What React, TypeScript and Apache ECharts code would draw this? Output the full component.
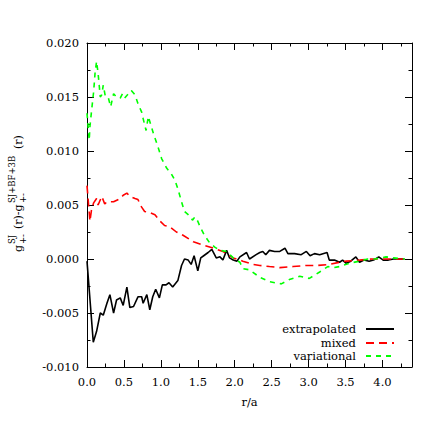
import React, { useEffect, useRef } from "react";
import * as echarts from "echarts";

const seriesNames = ["extrapolated", "mixed", "variational"];

const extrapolated: number[][] = [
  [0.0, -0.0002], [0.085, -0.0077], [0.13, -0.0067], [0.18, -0.005], [0.22, -0.0052],
  [0.27, -0.0041], [0.31, -0.0033], [0.36, -0.005], [0.4, -0.0038], [0.45, -0.0036],
  [0.49, -0.0043], [0.54, -0.0026], [0.58, -0.0045], [0.63, -0.0044], [0.69, -0.0035],
  [0.74, -0.0035], [0.76, -0.0041], [0.81, -0.0033], [0.85, -0.0047], [0.89, -0.0035],
  [0.93, -0.0028], [0.98, -0.0036], [1.02, -0.0024], [1.07, -0.0024], [1.11, -0.0022],
  [1.16, -0.0026], [1.23, -0.002], [1.28, -0.0006], [1.32, 0.0], [1.37, -0.0001],
  [1.41, -0.0005], [1.45, 0.0003], [1.5, -0.0011], [1.54, 0.0001], [1.58, 0.0003],
  [1.64, 0.0006], [1.69, 0.0009], [1.75, 0.0001], [1.8, 0.0002], [1.84, -0.0001],
  [1.89, 0.0008], [1.93, 0.0001], [1.98, -0.0001], [2.03, -0.0002], [2.07, 0.0002],
  [2.16, 0.0006], [2.2, 0.0], [2.29, 0.0004], [2.34, 0.0006], [2.38, 0.0007],
  [2.42, 0.0004], [2.47, 0.0008], [2.54, 0.0007], [2.61, 0.0007], [2.68, 0.001],
  [2.72, 0.0005], [2.81, 0.0005], [2.9, 0.0004], [2.97, 0.0007], [3.02, 0.0003],
  [3.08, 0.0005], [3.15, 0.0004], [3.25, 0.0006], [3.28, -0.0001], [3.35, -0.0001],
  [3.42, -0.0003], [3.46, -0.0001], [3.51, -0.0004], [3.57, -0.0002], [3.64, 0.0002],
  [3.69, -0.0003], [3.75, -0.0001], [3.82, -0.0002], [3.88, -0.0001], [3.95, 0.0002],
  [4.01, -0.0001], [4.08, -0.0001], [4.15, 0.0], [4.22, 0.0], [4.3, 0.0],
];

const mixed: number[][] = [
  [0.0, 0.0068], [0.04, 0.0035], [0.06, 0.0045], [0.09, 0.0052], [0.13, 0.0056],
  [0.15, 0.005], [0.2, 0.0058], [0.24, 0.0051], [0.27, 0.0053], [0.36, 0.0053],
  [0.45, 0.0056], [0.49, 0.0059], [0.54, 0.0061], [0.58, 0.0058], [0.65, 0.0056],
  [0.69, 0.0055], [0.74, 0.0048], [0.78, 0.0044], [0.85, 0.0043], [0.92, 0.0041],
  [0.99, 0.0035], [1.05, 0.0031], [1.12, 0.003], [1.21, 0.0025], [1.3, 0.0022],
  [1.44, 0.0016], [1.57, 0.0013], [1.71, 0.001], [1.84, 0.0007], [1.98, 0.0001],
  [2.11, -0.0002], [2.25, -0.0005], [2.34, -0.0006], [2.47, -0.0007], [2.61, -0.0008],
  [2.79, -0.0007], [2.97, -0.0006], [3.12, -0.0006], [3.28, -0.0005], [3.42, -0.0003],
  [3.51, -0.0002], [3.69, -0.0001], [3.85, 0.0], [4.0, 0.0], [4.15, 0.0], [4.3, 0.0],
];

const variational: number[][] = [
  [0.0, 0.0135], [0.03, 0.011], [0.04, 0.0123], [0.06, 0.0136], [0.09, 0.0155],
  [0.11, 0.0173], [0.13, 0.0183], [0.15, 0.0172], [0.18, 0.015], [0.2, 0.0152],
  [0.22, 0.0161], [0.25, 0.015], [0.29, 0.0149], [0.32, 0.0141], [0.36, 0.0153],
  [0.4, 0.015], [0.45, 0.0149], [0.48, 0.0153], [0.51, 0.0149], [0.56, 0.0153],
  [0.6, 0.0156], [0.65, 0.0152], [0.69, 0.0144], [0.74, 0.0136], [0.76, 0.013],
  [0.8, 0.0119], [0.83, 0.0132], [0.86, 0.0125], [0.9, 0.0116], [0.96, 0.0104],
  [1.01, 0.0093], [1.08, 0.0084], [1.14, 0.0079], [1.19, 0.0073], [1.23, 0.0065],
  [1.28, 0.0053], [1.32, 0.0044], [1.37, 0.0041], [1.43, 0.0036], [1.46, 0.0039],
  [1.5, 0.0035], [1.53, 0.003], [1.59, 0.0022], [1.66, 0.0015], [1.73, 0.0011],
  [1.8, 0.0008], [1.89, 0.0007], [1.98, 0.0001], [2.07, -0.0003], [2.11, -0.0009],
  [2.2, -0.001], [2.34, -0.0017], [2.47, -0.0021], [2.63, -0.0023], [2.74, -0.0019],
  [2.88, -0.0016], [3.01, -0.0018], [3.15, -0.0012], [3.26, -0.0007], [3.34, -0.0008],
  [3.42, -0.0007], [3.55, -0.0004], [3.69, -0.0002], [3.8, 0.0], [3.9, 0.0],
  [4.05, 0.0002], [4.15, 0.0001], [4.3, 0.0],
];

const FONT = "DejaVu Serif";
const FS = 11.5;

function makeX(pos: "bottom" | "top") {
  return {
    type: "value",
    min: 0,
    max: 4.4,
    interval: 0.5,
    position: pos,
    axisLine: { show: true, onZero: false, lineStyle: { color: "#000", width: 1 } },
    axisTick: { show: true, inside: true, length: 7, lineStyle: { color: "#000" } },
    minorTick: { show: true, splitNumber: 2, length: 3.5, lineStyle: { color: "#000" } },
    splitLine: { show: false },
    minorSplitLine: { show: false },
    axisLabel: {
      show: pos === "bottom",
      showMaxLabel: false,
      margin: 9,
      color: "#000",
      fontFamily: FONT,
      fontSize: FS,
      formatter: (v: number) => v.toFixed(1),
    },
    name: pos === "bottom" ? "r/a" : "",
    nameLocation: "middle",
    nameGap: 29,
    nameTextStyle: { color: "#000", fontFamily: FONT, fontSize: FS },
  };
}

function makeY(pos: "left" | "right") {
  return {
    type: "value",
    min: -0.01,
    max: 0.02,
    interval: 0.005,
    position: pos,
    axisLine: { show: true, onZero: false, lineStyle: { color: "#000", width: 1 } },
    axisTick: { show: true, inside: true, length: 7, lineStyle: { color: "#000" } },
    minorTick: { show: true, splitNumber: 2, length: 3.5, lineStyle: { color: "#000" } },
    splitLine: { show: false },
    minorSplitLine: { show: false },
    axisLabel: {
      show: pos === "left",
      margin: 8,
      color: "#000",
      fontFamily: FONT,
      fontSize: FS,
      formatter: (v: number) => (Math.abs(v) < 1e-9 ? "0.000" : v.toFixed(3)),
    },
  };
}

const txt = (text: string, x: number, y: number, size: number) => ({
  type: "text",
  x,
  y,
  style: {
    text,
    fill: "#000",
    fontFamily: FONT,
    fontSize: size,
    textAlign: "left",
    textVerticalAlign: "middle",
  },
});

export default function App() {
  const ref = useRef<HTMLDivElement>(null);
  useEffect(() => {
    if (!ref.current) return;
    const chart = echarts.init(ref.current, undefined, { renderer: "svg" });
    const legendTops = [323, 337, 350];
    const option: any = {
      animation: false,
      backgroundColor: "#fff",
      grid: { left: 87, top: 43, right: 24, bottom: 69, containLabel: false },
      xAxis: [makeX("bottom"), makeX("top")],
      yAxis: [makeY("left"), makeY("right")],
      legend: seriesNames.map((n, i) => ({
        data: [n],
        right: 41,
        top: legendTops[i],
        orient: "vertical",
        align: "right",
        padding: 0,
        itemWidth: 28,
        itemHeight: 10,
        selectedMode: false,
        itemStyle: { opacity: 0 },
        textStyle: { color: "#000", fontFamily: FONT, fontSize: FS, padding: [0, 5, 0, 0] },
      })),
      series: [
        {
          name: seriesNames[0],
          type: "line",
          data: extrapolated,
          symbol: "none",
          showSymbol: false,
          lineStyle: { color: "#000", width: 1.6, type: "solid" },
          itemStyle: { color: "#000" },
        },
        {
          name: seriesNames[1],
          type: "line",
          data: mixed,
          symbol: "none",
          showSymbol: false,
          lineStyle: { color: "#ff0000", width: 1.6, type: [8, 5] },
          itemStyle: { color: "#ff0000" },
        },
        {
          name: seriesNames[2],
          type: "line",
          data: variational,
          symbol: "none",
          showSymbol: false,
          lineStyle: { color: "#00ff00", width: 1.6, type: [5, 5] },
          itemStyle: { color: "#00ff00" },
        },
      ],
      graphic: [
        {
          type: "group",
          x: 18,
          y: 252,
          rotation: Math.PI / 2,
          children: [
            txt("g", 0, 0, 11),
            txt("+-", 8, 5, 8.5),
            txt("SJ", 8, -6.5, 8.5),
            txt("(r)-g", 23, 0, 11),
            txt("+-", 49, 5, 8.5),
            txt("SJ+BF+3B", 49, -6.5, 8.5),
            txt("(r)", 103, 0, 11),
          ],
        },
      ],
    };
    chart.setOption(option);
    return () => chart.dispose();
  }, []);
  return (
    <div
      ref={ref}
      style={{ position: "absolute", left: 0, top: 0, width: 436, height: 436, background: "#fff" }}
    />
  );
}
